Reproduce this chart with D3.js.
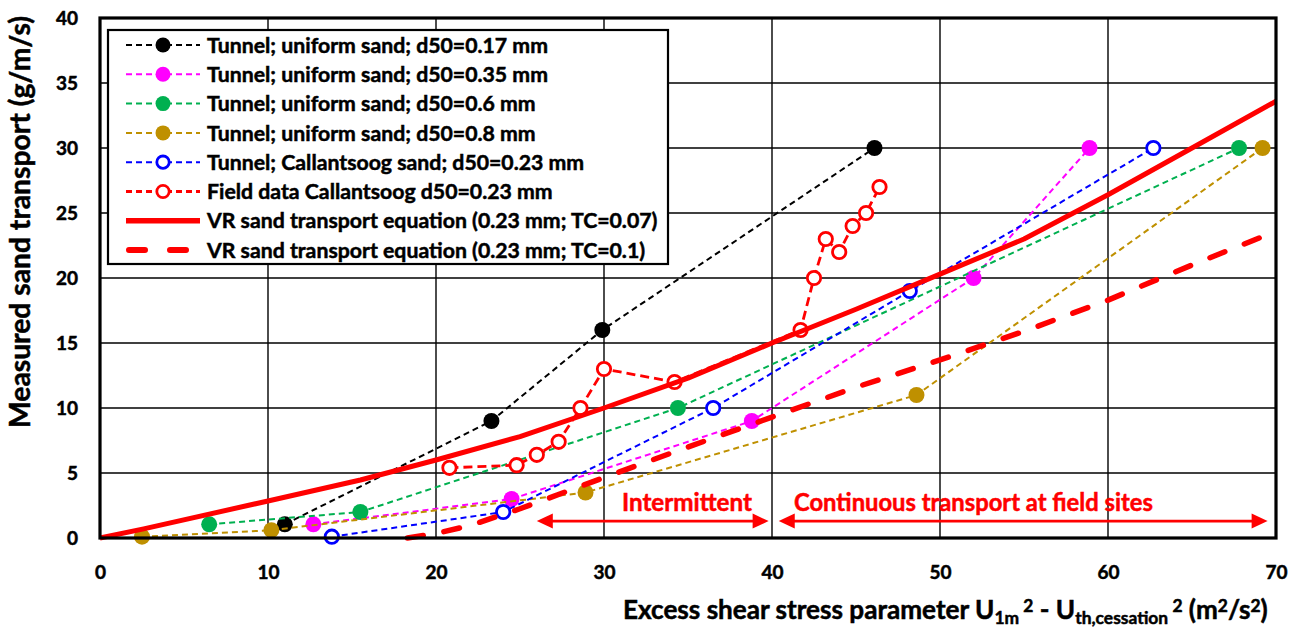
<!DOCTYPE html>
<html>
<head>
<meta charset="utf-8">
<script src="https://cdn.jsdelivr.net/npm/d3@7"></script>
<style>
  body { margin: 0; background: #fff; }
  text { font-family: Lato, "Open Sans", sans-serif; font-weight: bold; fill: #000;
         stroke: #000; stroke-width: 0.5px; }
  text.red { fill: #ff0000; stroke: #ff0000; }
</style>
</head>
<body>
<svg id="chart" width="1304" height="634"></svg>
<script>
// ---- data -------------------------------------------------------------
const xTicks = [0, 10, 20, 30, 40, 50, 60, 70];
const yTicks = [0, 5, 10, 15, 20, 25, 30, 35, 40];

const legendLabels = [
  "Tunnel; uniform sand; d50=0.17 mm",
  "Tunnel; uniform sand; d50=0.35 mm",
  "Tunnel; uniform sand; d50=0.6 mm",
  "Tunnel; uniform sand; d50=0.8 mm",
  "Tunnel; Callantsoog sand; d50=0.23 mm",
  "Field data Callantsoog d50=0.23 mm",
  "VR sand transport equation (0.23 mm; TC=0.07)",
  "VR sand transport equation (0.23 mm; TC=0.1)"
];

// [excess shear stress parameter, measured transport]
const tunnel017 = [[11.0, 1.05], [23.3, 9], [29.9, 16], [46.1, 30]];
const tunnel035 = [[12.7, 1.05], [24.5, 3], [38.8, 9], [52.0, 20], [58.9, 30]];
const tunnel06  = [[6.5, 1.05], [15.5, 2], [34.4, 10], [67.8, 30]];
const tunnel08  = [[2.5, 0.1], [10.2, 0.6], [28.9, 3.5], [48.6, 11], [69.2, 30]];
const tunnelCal = [[13.8, 0.1], [24.0, 2], [36.5, 10], [48.2, 19], [62.7, 30]];
const fieldCal  = [[20.8, 5.4], [24.8, 5.6], [26.0, 6.4], [27.3, 7.4], [28.6, 10], [30.0, 13],
                   [34.2, 12], [41.7, 16], [42.5, 20], [43.2, 23], [44.0, 22], [44.8, 24],
                   [45.6, 25], [46.4, 27]];
const vrTC007   = [[0, 0], [2.6, 0.7], [10, 2.85], [15.5, 4.46], [20, 6.0], [25, 7.8], [30, 10.0],
                   [35, 12.3], [40, 15.0], [45, 17.6], [50, 20.3], [55, 23.0], [60, 26.4],
                   [65, 30.0], [70, 33.6]];
const vrTC01    = [[18.3, 0], [20, 0.35], [22, 0.95], [25, 2.25], [30, 4.65], [35, 7.0], [40, 9.3],
                   [45, 11.6], [50, 13.7], [55, 15.9], [60, 18.3], [65, 21.0], [70, 23.6]];

const xTitle = "Excess shear stress parameter";
const yTitle = "Measured sand transport (g/m/s)";

// ---- layout -----------------------------------------------------------
const svg = d3.select("#chart");
const x = d3.scaleLinear().domain([0, 70]).range([100, 1276]);
const y = d3.scaleLinear().domain([0, 40]).range([538, 18]);

// gridlines
const grid = svg.append("g").attr("stroke", "#000").attr("stroke-width", 1.4);
grid.selectAll("line.v").data(xTicks).join("line")
  .attr("x1", d => x(d)).attr("x2", d => x(d))
  .attr("y1", y(40)).attr("y2", y(0));
grid.selectAll("line.h").data(yTicks).join("line")
  .attr("y1", d => y(d)).attr("y2", d => y(d))
  .attr("x1", x(0)).attr("x2", x(70));

// axes (labels only; the frame is drawn separately)
const xAxis = svg.append("g").attr("transform", `translate(0,${y(0)})`)
  .call(d3.axisBottom(x).tickValues(xTicks).tickSize(0).tickPadding(28).tickFormat(d3.format("d")));
const yAxis = svg.append("g").attr("transform", `translate(${x(0)},0)`)
  .call(d3.axisLeft(y).tickValues(yTicks).tickSize(0).tickPadding(22).tickFormat(d3.format("d")));
[xAxis, yAxis].forEach(a => {
  a.select(".domain").remove();
  a.selectAll("text").style("font-family", "Lato, sans-serif").style("font-weight", "bold")
    .style("font-size", "19px").attr("fill", "#000");
});

// series
const line = d3.line().x(d => x(d[0])).y(d => y(d[1]));
const series = [
  { data: tunnel017, color: "#000000", open: false, width: 2, dash: "6,4" },
  { data: tunnel035, color: "#ff00ff", open: false, width: 2, dash: "6,4" },
  { data: tunnel06,  color: "#00b050", open: false, width: 2, dash: "6,4" },
  { data: tunnel08,  color: "#bf9000", open: false, width: 2, dash: "6,4" },
  { data: tunnelCal, color: "#0000ff", open: true,  width: 2, dash: "6,4" },
  { data: fieldCal,  color: "#ff0000", open: true,  width: 2.8, dash: "9,5" },
  { data: vrTC007,   color: "#ff0000", width: 5, dash: null, noMarker: true },
  { data: vrTC01,    color: "#ff0000", width: 5.5, dash: "16,21", cap: "round", noMarker: true }
];

function drawMarkers(g, pts, s, r) {
  g.selectAll("circle").data(pts).join("circle")
    .attr("cx", d => d[0]).attr("cy", d => d[1])
    .attr("r", s.open ? r - 1.3 : r)
    .attr("fill", s.open ? "#fff" : s.color)
    .attr("stroke", s.open ? s.color : "none")
    .attr("stroke-width", s.open ? 2.8 : 0);
}

const plot = svg.append("g");
series.forEach(s => {
  const g = plot.append("g");
  g.append("path").attr("d", line(s.data)).attr("fill", "none")
    .attr("stroke", s.color).attr("stroke-width", s.width)
    .attr("stroke-dasharray", s.dash).attr("stroke-linecap", s.cap || "butt")
    .attr("stroke-linejoin", "round");
  if (!s.noMarker) drawMarkers(g, s.data.map(d => [x(d[0]), y(d[1])]), s, 8);
});

// frame
svg.append("rect").attr("x", x(0)).attr("y", y(40))
  .attr("width", x(70) - x(0)).attr("height", y(0) - y(40))
  .attr("fill", "none").attr("stroke", "#000").attr("stroke-width", 3.2);

// annotation arrows
function arrow(g, x1, x2, yy) {
  const hl = 16, hh = 7.5;
  g.append("line").attr("x1", x1 + hl - 2).attr("x2", x2 - hl + 2).attr("y1", yy).attr("y2", yy)
    .attr("stroke", "#ff0000").attr("stroke-width", 2.6);
  g.append("path").attr("d", `M${x1},${yy}L${x1 + hl},${yy - hh}L${x1 + hl},${yy + hh}Z`).attr("fill", "#ff0000");
  g.append("path").attr("d", `M${x2},${yy}L${x2 - hl},${yy - hh}L${x2 - hl},${yy + hh}Z`).attr("fill", "#ff0000");
}
const ann = svg.append("g");
arrow(ann, x(26.0), x(39.8), y(1.3));
arrow(ann, x(40.4), x(69.5), y(1.3));

function fitWidth(sel, w) {
  const cur = parseFloat(sel.style("font-size"));
  const len = sel.node().getComputedTextLength();
  sel.style("font-size", (cur * w / len) + "px");
}
const t1 = ann.append("text").attr("class", "red").attr("x", 622).attr("y", 511)
  .style("font-size", "21px").text("Intermittent");
fitWidth(t1, 130);
const t2 = ann.append("text").attr("class", "red").attr("x", 794).attr("y", 511)
  .style("font-size", "21px").text("Continuous transport at field sites");
fitWidth(t2, 359);

// legend
const lg = svg.append("g");
lg.append("rect").attr("x", 108).attr("y", 30).attr("width", 560).attr("height", 234)
  .attr("fill", "#fff").attr("stroke", "#000").attr("stroke-width", 2.2);
const rowY = i => 45 + i * 29.3;
const legendText = lg.selectAll("text").data(legendLabels).join("text")
  .attr("x", 207).attr("y", (d, i) => rowY(i)).attr("dy", "0.36em")
  .style("font-size", "19px").text(d => d);
{
  const first = legendText.filter((d, i) => i === 0);
  const len = first.node().getComputedTextLength();
  legendText.style("font-size", (19 * 341 / len) + "px");
}
series.forEach((s, i) => {
  const yy = rowY(i);
  const g = lg.append("g");
  if (i === 7) {
    g.append("path").attr("d", `M129,${yy}H200`).attr("stroke", s.color).attr("stroke-width", 6)
      .attr("stroke-dasharray", "16,25").attr("stroke-linecap", "round");
  } else {
    g.append("path").attr("d", `M126,${yy}H200`).attr("stroke", s.color)
      .attr("stroke-width", i === 6 ? 5.5 : s.width).attr("stroke-dasharray", i === 6 ? null : "6,4");
  }
  if (!s.noMarker) drawMarkers(g, [[163, yy]], s, 7.5);
});

// axis titles
const yt = svg.append("text").attr("transform", "translate(30,222) rotate(-90)")
  .attr("text-anchor", "middle").style("font-size", "21px").text(yTitle);
fitWidth(yt, 412);

const xt = svg.append("text").attr("x", 623).attr("y", 619).style("font-size", "21px");
xt.append("tspan").text(xTitle + " U");
xt.append("tspan").attr("dy", 5).style("font-size", "14px").text("1m");
xt.append("tspan").attr("dy", -12).style("font-size", "14px").text(" 2");
xt.append("tspan").attr("dy", 7).text(" - U");
xt.append("tspan").attr("dy", 5).style("font-size", "14px").text("th,cessation");
xt.append("tspan").attr("dy", -12).style("font-size", "14px").text(" 2");
xt.append("tspan").attr("dy", 7).text(" (m");
xt.append("tspan").attr("dy", -7).style("font-size", "14px").text("2");
xt.append("tspan").attr("dy", 7).text("/s");
xt.append("tspan").attr("dy", -7).style("font-size", "14px").text("2");
xt.append("tspan").attr("dy", 7).text(")");
{
  const len = xt.node().getComputedTextLength();
  const k = 645 / len;
  xt.style("font-size", (21 * k) + "px");
  xt.selectAll("tspan").each(function () {
    const t = d3.select(this);
    const fs = this.style.fontSize;
    if (fs) t.style("font-size", (parseFloat(fs) * k) + "px");
  });
}
</script>
</body>
</html>
